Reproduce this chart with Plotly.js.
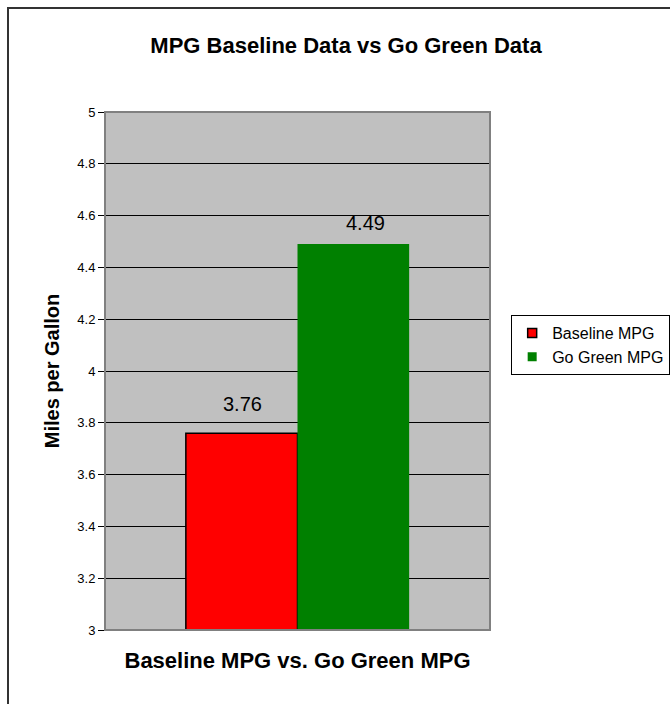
<!DOCTYPE html>
<html>
<head>
<meta charset="utf-8">
<script src="https://cdn.plot.ly/plotly-3.0.1.min.js"></script>
<style>
  html, body { margin: 0; padding: 0; background: #ffffff; overflow: hidden; }
  #frame { position: absolute; left: 7px; top: 7px; width: 700px; height: 740px; border: 2px solid #333333; box-sizing: border-box; }
  #chart { position: absolute; left: 0; top: 0; width: 670px; height: 704px; }
</style>
</head>
<body>
<div id="frame"></div>
<div id="chart"></div>
<script>
const seriesNames = ['Baseline MPG', 'Go Green MPG'];
const seriesValues = [3.76, 4.49];
const seriesColors = ['#FF0000', '#008000'];
const category = ['Baseline MPG vs. Go Green MPG'];
const chartTitle = 'MPG Baseline Data vs Go Green Data';
const yTitle = 'Miles per Gallon';
const yRange = [3, 5];
const yStep = 0.2;

const FONT = 'Arial, "Liberation Sans", sans-serif';
const borderWidths = [1.5, 0];
const labelShiftX = [0, 12];
const labelShiftY = [16, 8];

const barTraces = seriesNames.map((name, i) => ({
  type: 'bar',
  name: name,
  x: category,
  y: [seriesValues[i]],
  showlegend: false,
  marker: {
    color: seriesColors[i],
    line: { color: '#000000', width: borderWidths[i] }
  },
  hoverinfo: 'y'
}));

// legend-only entries with small square swatches
const legendTraces = seriesNames.map((name, i) => ({
  type: 'scatter',
  mode: 'markers',
  name: name,
  x: category,
  y: [null],
  showlegend: true,
  marker: {
    symbol: 'square',
    size: 9,
    color: seriesColors[i],
    line: { color: '#000000', width: borderWidths[i] }
  }
}));

const annotations = seriesValues.map((v, i) => ({
  x: category[0],
  y: v,
  xref: 'x',
  yref: 'y',
  text: v.toFixed(2),
  showarrow: false,
  yanchor: 'bottom',
  yshift: labelShiftY[i],
  xshift: (i - 0.5) * 111 + labelShiftX[i],
  font: { family: FONT, size: 20, color: '#000000' }
}));

const layout = {
  width: 670,
  height: 704,
  paper_bgcolor: 'rgba(0,0,0,0)',
  plot_bgcolor: '#C0C0C0',
  margin: { l: 105, r: 180, t: 112, b: 74, autoexpand: false },
  barmode: 'group',
  bargap: 0.42,
  bargroupgap: 0,
  title: {
    text: '<b>' + chartTitle + '</b>',
    font: { family: FONT, size: 22, color: '#000000' },
    x: 346 / 670, xref: 'container', xanchor: 'center',
    y: 1 - 45 / 704, yref: 'container', yanchor: 'middle'
  },
  xaxis: {
    showticklabels: false,
    ticks: '',
    showgrid: false,
    zeroline: false,
    showline: false,
    title: {
      text: '<b>' + category[0] + '</b>',
      font: { family: FONT, size: 22, color: '#000000' },
      standoff: 22
    }
  },
  yaxis: {
    range: yRange,
    dtick: yStep,
    tick0: yRange[0],
    showgrid: true,
    gridcolor: '#000000',
    gridwidth: 1,
    zeroline: false,
    showline: true,
    linecolor: '#000000',
    linewidth: 1,
    ticks: 'outside',
    ticklen: 6,
    tickcolor: '#000000',
    tickfont: { family: FONT, size: 13, color: '#000000' },
    title: {
      text: '<b>' + yTitle + '</b>',
      font: { family: FONT, size: 20, color: '#000000' },
      standoff: 12
    }
  },
  showlegend: true,
  legend: {
    x: 1.055, xanchor: 'left',
    y: 0.608, yanchor: 'top',
    bgcolor: '#FFFFFF',
    bordercolor: '#000000',
    borderwidth: 1,
    font: { family: FONT, size: 16, color: '#000000' },
    tracegroupgap: 0,
    itemwidth: 30
  },
  shapes: [{
    type: 'rect', xref: 'paper', yref: 'paper',
    x0: 0, x1: 1, y0: 0, y1: 1,
    line: { color: '#808080', width: 2 },
    fillcolor: 'rgba(0,0,0,0)',
    layer: 'above'
  }],
  annotations: annotations
};

Plotly.newPlot('chart', barTraces.concat(legendTraces), layout, { displayModeBar: false, staticPlot: true });
</script>
</body>
</html>
